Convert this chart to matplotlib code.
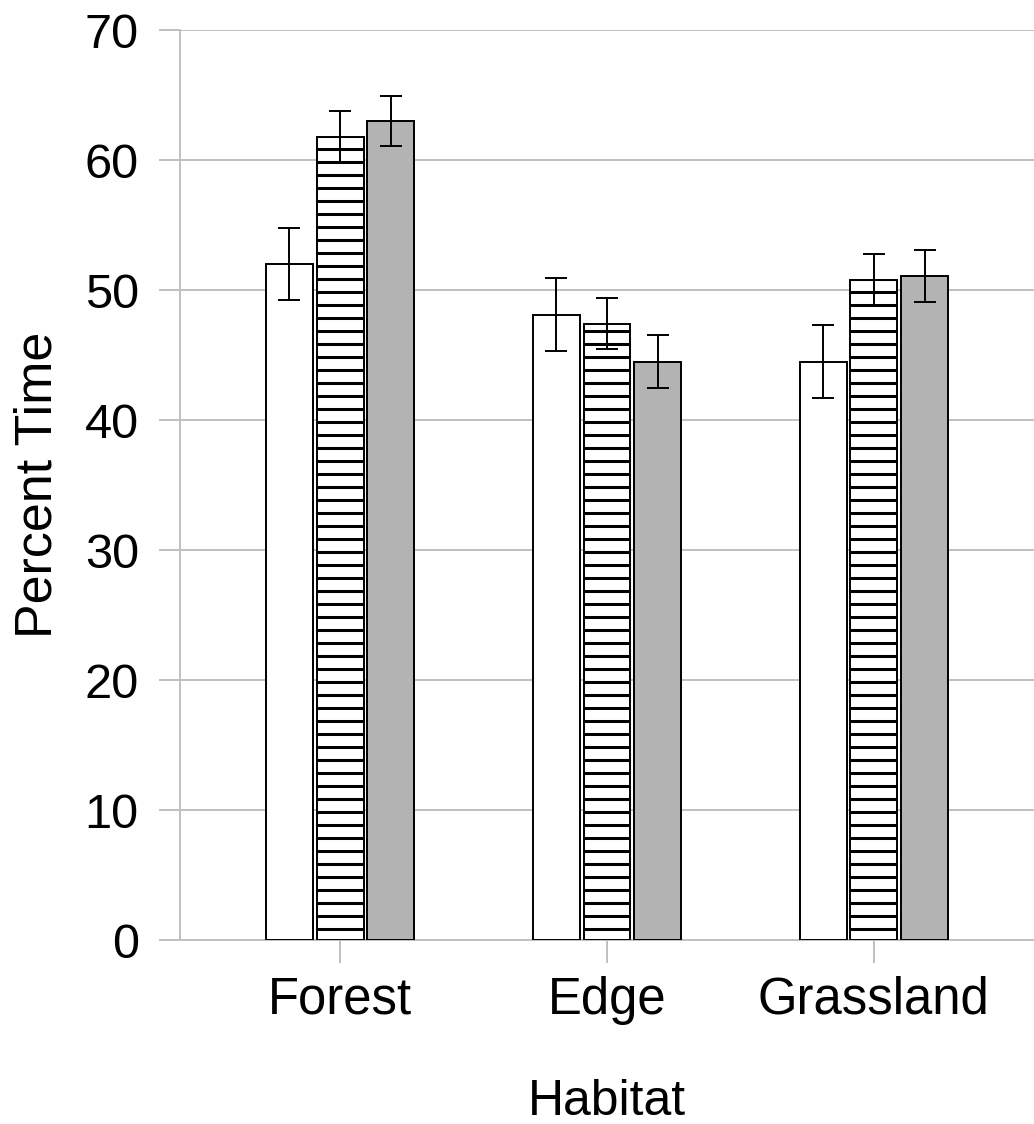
import numpy as np
import matplotlib
matplotlib.use("Agg")
from matplotlib import pyplot as plt

# data
habitats = ["Forest", "Edge", "Grassland"]
white_vals = [52.0, 48.1, 44.5]
white_err = [2.8, 2.8, 2.8]
hatch_vals = [61.8, 47.4, 50.8]
hatch_err = [1.95, 1.95, 2.0]
gray_vals = [63.0, 44.5, 51.1]
gray_err = [1.95, 2.05, 2.0]

DPI = 78
plt.rcParams['font.family'] = ['Liberation Sans', 'DejaVu Sans']
plt.rcParams['hatch.linewidth'] = 2.8
plt.rcParams['hatch.color'] = 'black'

fig = plt.figure(figsize=(1034 / DPI, 1124 / DPI), dpi=DPI)
ax = fig.add_axes([180 / 1034, 1 - 940 / 1124, 1 - 180 / 1034, (940 - 30) / 1124])

x = np.arange(len(habitats))
w = 0.176
step = 0.19
ekw = dict(ecolor='black', elinewidth=1.8, capsize=10, capthick=1.8)

ax.bar(x - step, white_vals, w, color='white', edgecolor='black', linewidth=1.8,
       yerr=white_err, error_kw=ekw, zorder=3)
ax.bar(x, hatch_vals, w, color='white', edgecolor='black', linewidth=1.8,
       hatch='-', yerr=hatch_err, error_kw=ekw, zorder=3)
ax.bar(x + step, gray_vals, w, color='#b3b3b3', edgecolor='black', linewidth=1.8,
       yerr=gray_err, error_kw=ekw, zorder=3)

ax.set_ylim(0, 70)
ax.set_xlim(-0.6, 2.6)
ax.set_yticks(range(0, 71, 10))
ax.set_xticks(x)
ax.set_xticklabels(habitats)

ax.grid(axis='y', color='#c0c0c0', linewidth=1.8, zorder=0)
for s in ['top', 'right']:
    ax.spines[s].set_visible(False)
for s in ['left', 'bottom']:
    ax.spines[s].set_color('#c0c0c0')
    ax.spines[s].set_linewidth(1.8)

ax.tick_params(axis='y', length=19, width=1.8, color='#c0c0c0', pad=19, labelsize=45)
ax.tick_params(axis='x', length=21, width=1.8, color='#c0c0c0', pad=12, labelsize=47)

ax.set_ylabel("Percent Time", fontsize=48, labelpad=20)
ax.set_xlabel("Habitat", fontsize=46, labelpad=50)

fig.savefig("out.png", dpi=DPI)
